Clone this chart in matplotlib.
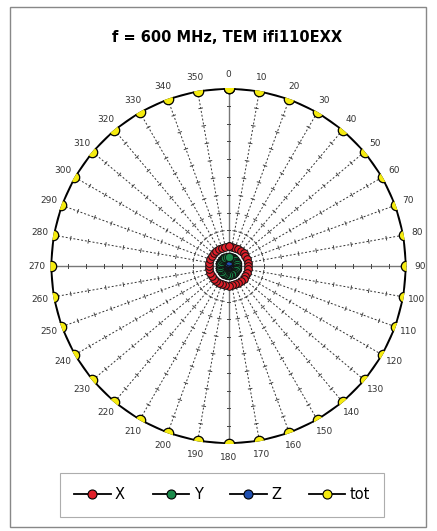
import numpy as np
import matplotlib.pyplot as plt
from matplotlib.lines import Line2D
from matplotlib.patches import Rectangle

# Ángulos de medición (grados) y valores por eje
angulos = [0, 10, 20, 30, 40, 50, 60, 70, 80, 90, 100, 110,
           120, 130, 140, 150, 160, 170, 180, 190, 200, 210, 220, 230,
           240, 250, 260, 270, 280, 290, 300, 310, 320, 330, 340, 350]
campo_tot = [1.00, 1.00, 1.00, 1.00, 1.00, 1.00, 1.00, 1.00, 1.00, 1.00, 1.00, 1.00,
             1.00, 1.00, 1.00, 1.00, 1.00, 1.00, 1.00, 1.00, 1.00, 1.00, 1.00, 1.00,
             1.00, 1.00, 1.00, 1.00, 1.00, 1.00, 1.00, 1.00, 1.00, 1.00, 1.00, 1.00]
campo_x = [0.11, 0.11, 0.11, 0.11, 0.11, 0.11, 0.11, 0.11, 0.11, 0.11, 0.11, 0.11,
           0.11, 0.11, 0.11, 0.11, 0.11, 0.11, 0.11, 0.11, 0.11, 0.11, 0.11, 0.11,
           0.11, 0.11, 0.11, 0.11, 0.11, 0.11, 0.11, 0.11, 0.11, 0.11, 0.11, 0.11]
campo_y = [0.05, 0.05, 0.05, 0.05, 0.05, 0.05, 0.05, 0.05, 0.05, 0.05, 0.05, 0.05,
           0.05, 0.05, 0.05, 0.05, 0.05, 0.05, 0.05, 0.05, 0.05, 0.05, 0.05, 0.05,
           0.05, 0.05, 0.05, 0.05, 0.05, 0.05, 0.05, 0.05, 0.05, 0.05, 0.05, 0.05]
campo_z = [0.02, 0.02, 0.02, 0.02, 0.02, 0.02, 0.02, 0.02, 0.02, 0.02, 0.02, 0.02,
           0.02, 0.02, 0.02, 0.02, 0.02, 0.02, 0.02, 0.02, 0.02, 0.02, 0.02, 0.02,
           0.02, 0.02, 0.02, 0.02, 0.02, 0.02, 0.02, 0.02, 0.02, 0.02, 0.02, 0.02]

series = [
    ('Z', campo_z, '#1f4fb0', 5.0),
    ('Y', campo_y, '#1a8a4a', 6.0),
    ('X', campo_x, '#e0202a', 5.5),
]

fig = plt.figure(figsize=(4.37, 5.31), dpi=100)
fig.add_artist(Rectangle((0.022, 0.008), 0.952, 0.978, transform=fig.transFigure,
                         fill=False, edgecolor='#888888', lw=1.0))

ax = fig.add_axes([0.1156, 0.1638, 0.8146, 0.6704], projection='polar')
ax.set_theta_zero_location('N')
ax.set_theta_direction(-1)
ax.set_ylim(0, 1.0)
ax.grid(False)
ax.spines['polar'].set_visible(False)
ax.set_xticks([])
ax.set_yticks([])

theta = np.deg2rad(angulos)
radio_px = 178.0

# Radios (ejes principales sólidos, resto discontinuos) con marcas
for a, t in zip(angulos, theta):
    if a % 90 == 0:
        ax.plot([t, t], [0, 1], color='#777777', lw=1.0, zorder=1)
    else:
        ax.plot([t, t], [0, 1], color='#333333', lw=0.7, ls=(0, (2, 2)), zorder=1)
    for r in np.arange(0.2, 1.0, 0.1):
        dt = 1.8 / (r * radio_px)
        ax.plot([t - dt, t + dt], [r, r], color='#444444', lw=0.7, zorder=1)

# Serie total (cerrada)
t_closed = np.append(theta, theta[0])
ax.plot(t_closed, np.append(campo_tot, campo_tot[0]), color='black', lw=2.0,
        marker='o', markersize=7.5, markerfacecolor='#f5eb10',
        markeredgecolor='black', markeredgewidth=0.9, zorder=4)

for nombre, vals, color, ms in series:
    ax.plot(t_closed, np.append(vals, vals[0]), color='#111111', lw=1.6,
            marker='o', markersize=ms, markerfacecolor=color,
            markeredgecolor='#111111', markeredgewidth=0.7, zorder=3)

# Etiquetas de ángulo
for a, t in zip(angulos, theta):
    ax.text(t, 1.075, str(a), ha='center', va='center', fontsize=6.5,
            color='#333333', clip_on=False)

fig.text(0.52, 0.93, 'f = 600 MHz, TEM ifi110EXX', ha='center', va='center',
         fontsize=10.5, fontweight='bold')

# Leyenda
handles = [Line2D([0], [0], color='black', lw=1.3, marker='o', markersize=6.5,
                  markerfacecolor=c, markeredgecolor='black', markeredgewidth=0.8)
           for c in ['#e0202a', '#1a8a4a', '#1f4fb0', '#f5eb10']]
labels = ['X', 'Y', 'Z', 'tot']
leg = fig.legend(handles, labels, loc='center', bbox_to_anchor=(0.508, 0.068),
                 ncol=4, frameon=True, fancybox=False, fontsize=10.5,
                 handlelength=2.5, handletextpad=0.3, columnspacing=1.9,
                 borderpad=1.0, numpoints=1)
leg.get_frame().set_edgecolor('#999999')
leg.get_frame().set_linewidth(0.8)

fig.savefig('out.png', dpi=100)
